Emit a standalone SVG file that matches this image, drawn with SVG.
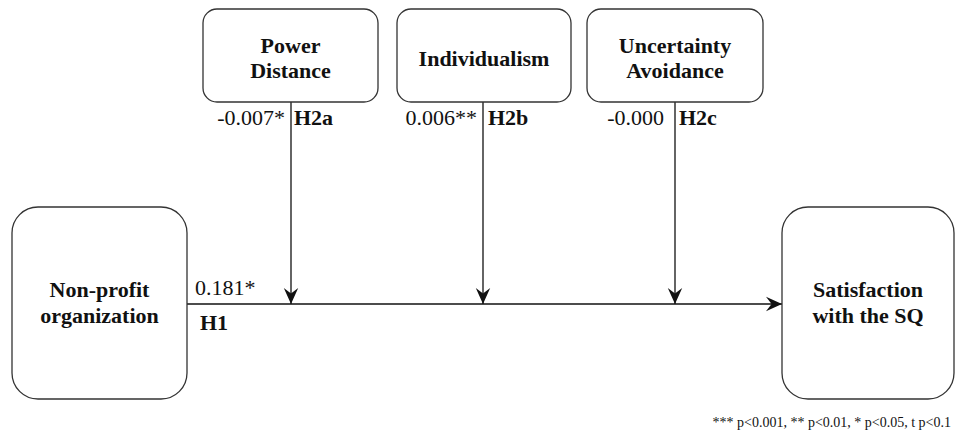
<svg xmlns="http://www.w3.org/2000/svg" width="955" height="434" viewBox="0 0 955 434">
  <style>
    text { font-family: 'Liberation Serif', 'Times New Roman', 'DejaVu Serif', serif; fill: #111111; }
    .box { fill: #ffffff; stroke: #333333; stroke-width: 1.3; }
    .lbl { font-weight: bold; font-size: 22px; text-anchor: middle; }
    .coef { font-size: 22px; }
    .hyp { font-size: 22px; font-weight: bold; }
    .edge { stroke: #111111; stroke-width: 1.3; fill: none; }
    .note { font-size: 14px; text-anchor: end; }
  </style>
  <defs>
    <marker id="arrow" viewBox="0 0 20 20" refX="20" refY="10" markerWidth="16" markerHeight="16" markerUnits="userSpaceOnUse" orient="auto">
      <path d="M0,1 L20,10 L0,19 L7,10 Z" fill="#111111"/>
    </marker>
  </defs>

  <rect x="0" y="0" width="955" height="434" fill="#ffffff"/>

  <g id="connectors">
    <line class="edge" x1="187" y1="304" x2="782" y2="304" marker-end="url(#arrow)"/>
    <line class="edge" x1="291" y1="102" x2="291" y2="304" marker-end="url(#arrow)"/>
    <line class="edge" x1="483" y1="102" x2="483" y2="304" marker-end="url(#arrow)"/>
    <line class="edge" x1="675" y1="102" x2="675" y2="304" marker-end="url(#arrow)"/>
  </g>

  <g id="power-distance">
    <rect class="box" x="203" y="9" width="175" height="93" rx="14"/>
    <text class="lbl" x="290.5" y="53">Power</text>
    <text class="lbl" x="290.5" y="78">Distance</text>
  </g>

  <g id="individualism">
    <rect class="box" x="397" y="9" width="174" height="93" rx="14"/>
    <text class="lbl" x="484" y="66">Individualism</text>
  </g>

  <g id="uncertainty-avoidance">
    <rect class="box" x="587" y="9" width="176" height="93" rx="14"/>
    <text class="lbl" x="675" y="53">Uncertainty</text>
    <text class="lbl" x="675" y="78">Avoidance</text>
  </g>

  <g id="non-profit">
    <rect class="box" x="12" y="207" width="175" height="192" rx="26"/>
    <text class="lbl" x="99.5" y="297">Non-profit</text>
    <text class="lbl" x="99.5" y="323">organization</text>
  </g>

  <g id="satisfaction">
    <rect class="box" x="782" y="207" width="172" height="192" rx="26"/>
    <text class="lbl" x="868" y="297">Satisfaction</text>
    <text class="lbl" x="868" y="323">with the SQ</text>
  </g>

  <g id="edge-labels">
    <text class="coef" x="285" y="125" text-anchor="end">-0.007*</text>
    <text class="hyp" x="294" y="125">H2a</text>
    <text class="coef" x="477" y="125" text-anchor="end">0.006**</text>
    <text class="hyp" x="488" y="125">H2b</text>
    <text class="coef" x="664" y="125" text-anchor="end">-0.000</text>
    <text class="hyp" x="679" y="125">H2c</text>
    <text class="coef" x="195" y="295">0.181*</text>
    <text class="hyp" x="200" y="330">H1</text>
  </g>

  <text class="note" x="951" y="427">*** p&lt;0.001, ** p&lt;0.01, * p&lt;0.05, t p&lt;0.1</text>
</svg>
